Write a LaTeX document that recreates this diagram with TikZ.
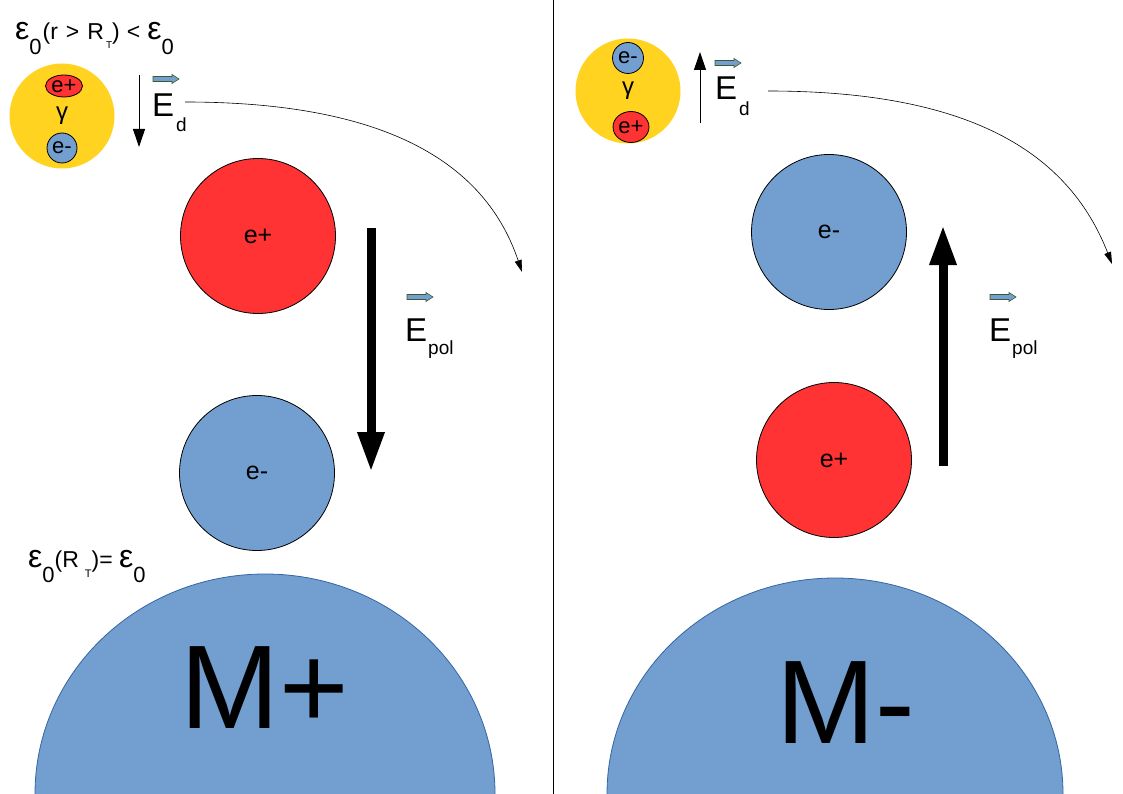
\documentclass[tikz,border=0pt]{standalone}
\usepackage{fontspec}
\setmainfont{Liberation Sans}
\usepackage{tikz}
\usetikzlibrary{arrows.meta,shapes.geometric}

\definecolor{pred}{HTML}{FF3333}
\definecolor{eblue}{HTML}{729FCF}
\definecolor{gyellow}{HTML}{FFD320}
\definecolor{mborder}{HTML}{3465A4}
\definecolor{fline}{HTML}{3F5A2E}

\newcommand{\fs}[1]{\fontsize{#1}{#1}\selectfont}
\newcommand{\epsnull}[2]{{\fs{32}ε}\raisebox{-#2pt}{\fs{#1}0}}

\begin{document}
\begin{tikzpicture}[x=1pt, y=-1pt,
  particle/.style={draw, line width=0.8pt, circle, minimum size=155pt, inner sep=0pt, font=\fs{25}},
  pair/.style={draw, line width=0.8pt, ellipse, inner sep=-4pt, font=\fs{22}},
  field/.style={line width=9pt, -{Triangle[width=25pt,length=40pt]}},
  thin field/.style={line width=1pt, -{Triangle[width=12pt,length=18pt]}},
  drift/.style={line width=0.6pt, -{Triangle[width=7pt,length=12pt]}},
  lbl/.style={anchor=base west, inner sep=0pt},
  pics/fieldarrow/.style={code={
    \draw[draw=fline, fill=eblue, line width=0.6pt] (-13,-2.5) -- (6,-2.5) -- (6,-4.5) -- (13,0) -- (6,4.5) -- (6,2.5) -- (-13,2.5) -- cycle;}}]
\useasboundingbox (0,0) rectangle (1123,794);
\fill[white] (0,0) rectangle (1123,794);

% divider
\coordinate (divtop) at (553,0);
\coordinate (divbot) at (553,794);
\draw[line width=1pt] (divtop) -- (divbot);

% the two masses
\fill[eblue] (35,794) arc[start angle=180, end angle=360, x radius=230, y radius=220] -- cycle;
\draw[mborder, line width=0.8pt] (35,794) arc[start angle=180, end angle=360, x radius=230, y radius=220];
\node[font=\fs{119}] (mplus) at (265,688) {M+};
\fill[eblue] (607,794) arc[start angle=180, end angle=360, x radius=228, y radius=216] -- cycle;
\draw[mborder, line width=0.8pt] (607,794) arc[start angle=180, end angle=360, x radius=228, y radius=216];
\node[font=\fs{119}] (mminus) at (846,703) {M-};

% left side
\node[lbl, font=\fs{23}] (epsout) at (15,40) {\epsnull{22}{15}\kern1pt(r\hspace{8pt}>\hspace{8pt}R\kern2pt\raisebox{-9pt}{\fs{10}T})\hspace{7pt}<\hspace{7pt}\epsnull{22}{15}};
\node[circle, fill=gyellow, minimum size=105pt, inner sep=0pt] (pairl) at (62,116) {};
\node[pair, fill=pred, minimum width=37pt, minimum height=22pt] (pairlp) at (64,86) {e+};
\node[font=\fs{24}] (gammal) at (62,116) {γ};
\node[pair, fill=eblue, minimum width=30pt, minimum height=30pt] (pairlm) at (62,148) {e-};

\coordinate (tl0) at (139,75);
\coordinate (tl1) at (139,147);
\draw[thin field] (tl0) -- (tl1);
\pic at (166,79) {fieldarrow};
\node[lbl, font=\fs{33}] (edl) at (152,117) {E\kern2pt\raisebox{-15pt}{\fs{19}d}};

\coordinate (cl0) at (185,102);
\coordinate (cl1) at (522,272);
\draw[drift] (cl0) .. controls (385,102) and (485,162) .. (cl1);

\node[particle, fill=pred] (posl) at (258,236) {e+};
\node[particle, fill=eblue] (negl) at (257,473) {e-};

\coordinate (fl0) at (371,228);
\coordinate (fl1) at (371,472);
\draw[field] (fl0) -- (fl1);
\pic at (420,297) {fieldarrow};
\node[lbl, font=\fs{33}] (epoll) at (405,341) {E\kern1pt\raisebox{-13pt}{\fs{19}pol}};

\node[lbl, font=\fs{23}] (epssurf) at (28,567) {\epsnull{22}{15}(R\kern6pt\raisebox{-10pt}{\fs{11}T})= \epsnull{22}{15}};

% right side
\node[circle, fill=gyellow, minimum size=105pt, inner sep=0pt] (pairr) at (628,91) {};
\node[pair, fill=eblue, minimum width=31pt, minimum height=31pt] (pairrm) at (628,58) {e-};
\node[font=\fs{24}] (gammar) at (628,91) {γ};
\node[pair, fill=pred, minimum width=36pt, minimum height=31pt] (pairrp) at (631,127) {e+};

\coordinate (tr0) at (700,123);
\coordinate (tr1) at (700,52);
\draw[thin field] (tr0) -- (tr1);
\pic at (728,63) {fieldarrow};
\node[lbl, font=\fs{33}] (edr) at (715,100) {E\kern2pt\raisebox{-16pt}{\fs{19}d}};

\coordinate (cr0) at (768,91);
\coordinate (cr1) at (1112,264);
\draw[drift] (cr0) .. controls (968,91) and (1068,151) .. (cr1);

\node[particle, fill=eblue] (negr) at (829,232) {e-};
\node[particle, fill=pred] (posr) at (834,460) {e+};

\coordinate (fr0) at (943,466);
\coordinate (fr1) at (943,225);
\draw[field] (fr0) -- (fr1);
\pic at (1003,297) {fieldarrow};
\node[lbl, font=\fs{33}] (epolr) at (989,341) {E\kern1pt\raisebox{-13pt}{\fs{19}pol}};
\end{tikzpicture}
\end{document}
